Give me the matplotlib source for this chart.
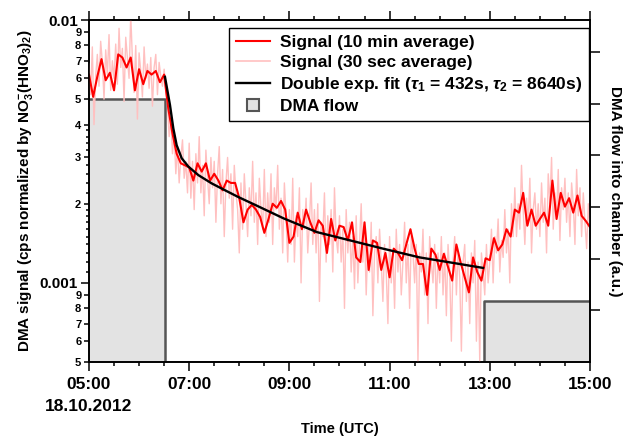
import numpy as np
import matplotlib
matplotlib.use('Agg')
import matplotlib.pyplot as plt
import matplotlib.dates as mdates
from matplotlib.lines import Line2D
from matplotlib.ticker import FixedLocator, FuncFormatter

plt.rcParams['font.family'] = ['Liberation Sans', 'DejaVu Sans']
plt.rcParams['font.weight'] = 'bold'
plt.rcParams['axes.labelweight'] = 'bold'
plt.rcParams['mathtext.fontset'] = 'custom'
plt.rcParams['mathtext.rm'] = 'Liberation Sans:bold'
plt.rcParams['mathtext.it'] = 'Liberation Sans:italic:bold'
plt.rcParams['mathtext.bf'] = 'Liberation Sans:bold'

START = np.datetime64('2012-10-18T05:00')

# signal, 10 min average (x 1e-3), sampled every 5 min from 05:00
red_min = np.arange(0, 601, 5)
red_val = [6.2, 5.1, 6.1, 7.1, 5.9, 6.3, 5.4, 7.4, 7.2, 6.6, 7.2, 5.4, 6.5, 5.7, 6.4, 6.2, 6.4, 5.8, 6.2,
           4.6, 3.7, 3.1, 2.85, 2.8, 2.75, 2.45, 2.85, 2.65, 2.85, 2.45, 2.6, 2.45, 2.25, 2.45, 2.4, 2.4,
           2.1, 1.7, 1.9, 1.98, 1.9,
           1.78, 1.55, 1.75, 2.0, 1.93, 2.05, 1.9, 1.42, 1.5, 1.85, 1.6, 1.9, 1.7, 1.55, 1.73, 1.65, 1.3,
           1.75, 1.45, 1.65, 1.63, 1.45, 1.7, 1.25, 1.2, 1.7, 1.12, 1.45, 1.42, 1.12, 1.3, 1.05, 1.35, 1.3,
           1.22, 1.4, 1.6, 1.35, 1.18,
           1.18, 0.9, 1.35, 1.28, 1.12, 1.29, 1.15, 1.02, 1.4, 1.2, 1.05, 0.92, 1.25, 1.1, 1.02, 1.24, 1.22,
           1.48, 1.33, 1.4, 1.6, 1.5, 1.9, 1.85, 2.2, 1.65, 1.9, 1.65, 1.75, 1.85, 1.65, 2.45, 1.75, 2.2,
           1.95, 2.1, 1.85, 2.15, 1.8, 1.72, 1.63]

# signal, 30 sec average (x 1e-3), read every 2 min
pink_min = np.arange(0, 601, 2)
pink_val = [6.8, 5.2, 7.9, 4.0, 6.1, 7.4, 5.6, 8.3, 6.9, 5.0, 7.7, 6.2, 8.8, 5.4, 7.0,
            6.0, 8.1, 5.7, 9.3, 6.6, 7.8, 4.9, 8.6, 7.2, 6.0, 10.5, 7.1, 5.3, 8.0, 4.2,
            7.5, 6.4, 5.1, 7.9, 6.0, 6.8, 5.5, 7.2, 4.7, 6.6, 7.4, 5.2, 6.9, 6.1, 5.6,
            6.5, 5.3, 4.8, 3.6, 4.2, 3.1, 3.7, 2.6, 3.3, 2.4, 3.0, 3.5, 2.5, 2.9, 2.2,
            3.4, 2.1, 2.9, 1.9, 3.1, 2.4, 3.6, 2.2, 2.8, 1.8, 3.2, 2.5, 2.0, 3.0, 2.3,
            2.9, 1.7, 2.6, 3.3, 2.0, 2.7, 1.5, 2.4, 3.0, 2.1, 2.6, 1.6, 2.8, 2.2, 1.9,
            1.3, 2.4, 1.6, 2.6, 2.0, 1.5, 2.3, 1.8, 2.9, 1.7, 2.2, 1.4, 2.5, 1.9, 1.6,
            2.7, 1.5, 2.2, 1.7, 2.6, 1.4, 2.3, 1.9, 2.8, 1.6, 2.1, 1.3, 2.4, 1.8, 1.2,
            1.9, 1.4, 2.5, 1.2, 1.8, 1.5, 2.3, 1.0, 1.9, 1.6, 2.1, 1.3, 1.7, 2.4, 1.4,
            1.9, 1.3, 2.0, 0.85, 1.7, 1.5, 2.2, 1.2, 1.8, 1.4, 1.9, 1.1, 2.3, 1.5, 1.3,
            1.8, 1.2, 1.6, 0.8, 1.9, 1.3, 1.7, 1.1, 1.5, 0.95, 1.8, 1.0, 1.4, 2.0, 1.2,
            1.6, 0.9, 1.4, 1.1, 1.7, 0.75, 1.3, 1.5, 1.0, 1.6, 1.2, 0.85, 1.4, 1.1, 0.7,
            1.5, 1.0, 1.3, 0.8, 1.6, 1.1, 1.4, 0.9, 1.2, 1.7, 1.0, 1.4, 0.8, 1.5, 1.3,
            1.0, 1.4, 0.5, 1.3, 1.1, 1.6, 0.9, 1.3, 0.7, 1.5, 1.2, 1.0, 1.4, 0.8, 1.3,
            1.0, 1.5, 0.9, 1.3, 0.75, 1.4, 1.1, 0.6, 1.2, 1.5, 0.9, 1.3, 1.05, 0.55, 1.2,
            1.4, 0.85, 1.2, 0.7, 1.3, 1.0, 1.45, 0.6, 1.2, 0.5, 1.3, 1.1, 0.9, 1.4, 1.0,
            1.2, 1.6, 1.0, 1.5, 1.3, 1.75, 1.1, 1.45, 1.25, 1.9, 1.3, 1.6, 1.0, 2.0, 1.5,
            2.3, 1.5, 2.0, 1.6, 2.8, 1.9, 1.4, 2.1, 1.7, 2.5, 1.3, 1.9, 2.2, 1.6, 2.0,
            1.5, 2.4, 1.7, 2.1, 1.3, 2.6, 2.0, 3.0, 1.6, 2.2, 1.8, 2.7, 1.45, 2.3, 1.9,
            2.5, 1.7, 2.2, 1.5, 2.4, 2.0, 1.4, 2.7, 1.8, 2.3, 1.5, 2.2, 1.7, 1.35, 2.0, 1.6]

# double exponential fit curve (x 1e-3)
fit_min = [91, 97, 101, 105, 111, 119, 131, 147, 163, 179, 199, 233, 273, 313, 352, 396, 430, 472]
fit_val = [6.08, 4.75, 3.87, 3.34, 2.98, 2.77, 2.57, 2.39, 2.25, 2.12, 1.98, 1.76, 1.56, 1.45,
           1.35, 1.25, 1.20, 1.14]

# DMA flow (a.u.)
flow_min = [0, 91, 473, 600]
flow_val = [5.1, 0.0, 1.19, 1.19]


def to_time(minutes):
    return START + np.array(minutes, dtype='timedelta64[m]')


fig = plt.figure(figsize=(6.32, 4.38), dpi=100)
ax = fig.add_axes([0.1408, 0.1735, 0.7927, 0.7808])
ax2 = ax.twinx()
ax.set_zorder(ax2.get_zorder() + 1)
ax.patch.set_visible(False)

# DMA flow on the right axis
ax2.fill_between(to_time(flow_min), flow_val, step='post', color='#e3e3e3', lw=0)
ax2.step(to_time(flow_min), flow_val, where='post', color='#555555', lw=1.8)
ax2.set_ylim(0, 6.62)
ax2.set_yticks(range(1, 7))
ax2.tick_params(axis='y', direction='out', length=7, width=1.1, labelright=False)
ax2.set_ylabel('DMA flow into chamber (a.u.)', rotation=270, fontsize=11, labelpad=16)

# signals
ax.plot(to_time(pink_min), np.array(pink_val) * 1e-3, color='#ffc0c0', lw=1.0)
ax.plot(to_time(red_min), np.array(red_val) * 1e-3, color='#ff0000', lw=1.5)
ax.plot(to_time(fit_min), np.array(fit_val) * 1e-3, color='black', lw=1.7)

ax.set_yscale('log')
ax.set_ylim(5e-4, 1e-2)
ax.set_xlim(to_time([0])[0], to_time([600])[0])

# y ticks
ax.yaxis.set_major_locator(FixedLocator([1e-3, 1e-2]))
ax.yaxis.set_major_formatter(FuncFormatter(lambda v, p: '0.001' if v < 5e-3 else '0.01'))
labelled = [5e-4, 6e-4, 7e-4, 8e-4, 9e-4, 2e-3, 3e-3, 4e-3, 5e-3, 6e-3, 7e-3, 8e-3, 9e-3]
small = [m * 1e-3 for m in (1.1, 1.2, 1.3, 1.4, 1.5, 1.6, 1.7, 1.8, 1.9, 2.2, 2.4, 2.6, 2.8,
                            3.2, 3.4, 3.6, 3.8)]
minor_pos = sorted(labelled + small)
ax.yaxis.set_minor_locator(FixedLocator(minor_pos))


def minor_label(v, p):
    for lv in labelled:
        if abs(v - lv) / lv < 1e-6:
            return str(int(round(lv / 10 ** np.floor(np.log10(lv) + 1e-9))))
    return ''


ax.yaxis.set_minor_formatter(FuncFormatter(minor_label))
ax.tick_params(axis='y', which='major', direction='out', length=6, width=1.1, labelsize=11, pad=2)
ax.tick_params(axis='y', which='minor', direction='out', length=3.5, width=1.1, labelsize=8, pad=2)
ax.tick_params(axis='y', right=False)
for v, t in zip(minor_pos, ax.yaxis.get_minor_ticks()):
    if v not in labelled:
        t.tick1line.set_markersize(2.2)

# x ticks
ax.xaxis.set_major_locator(mdates.HourLocator(byhour=range(5, 16, 2)))
ax.xaxis.set_minor_locator(mdates.MinuteLocator(byminute=[0, 30]))


def fmt_time(x, pos):
    d = mdates.num2date(x)
    s = d.strftime('%H:%M')
    if d.hour == 5:
        s += '\n18.10.2012'
    return s


ax.xaxis.set_major_formatter(FuncFormatter(fmt_time))
ax.tick_params(axis='x', which='major', direction='out', length=6.5, width=1.1,
               labelsize=12.5, pad=4, top=True)
ax.tick_params(axis='x', which='minor', direction='out', length=3, width=1.1, top=True)
for t in ax.xaxis.get_major_ticks():
    t.label1.set_linespacing(1.6)
ax.set_xlabel('Time (UTC)', fontsize=10.5, labelpad=6)
ax.set_ylabel(r'DMA signal (cps normalized by NO$_3^{-}$(HNO$_3$)$_2$)', fontsize=11, labelpad=3)

for a in (ax, ax2):
    for s in a.spines.values():
        s.set_linewidth(1.2)

handles = [Line2D([], [], color='#ff0000', lw=1.5),
           Line2D([], [], color='#ffc0c0', lw=1.2),
           Line2D([], [], color='black', lw=1.7),
           Line2D([], [], marker='s', ls='none', markersize=9, markerfacecolor='#e3e3e3',
                  markeredgecolor='#555555', markeredgewidth=1.5)]
labels = ['Signal (10 min average)', 'Signal (30 sec average)',
          r'Double exp. fit ($\tau_1$ = 432s, $\tau_2$ = 8640s)', 'DMA flow']
leg = ax.legend(handles, labels, loc='upper right', bbox_to_anchor=(0.998, 0.977),
                borderaxespad=0, fontsize=12.5, handlelength=2.0, handletextpad=0.55,
                labelspacing=0.28, borderpad=0.4, fancybox=False, framealpha=1,
                edgecolor='black')
leg.get_frame().set_linewidth(1.0)

fig.savefig('out.png', dpi=100)
